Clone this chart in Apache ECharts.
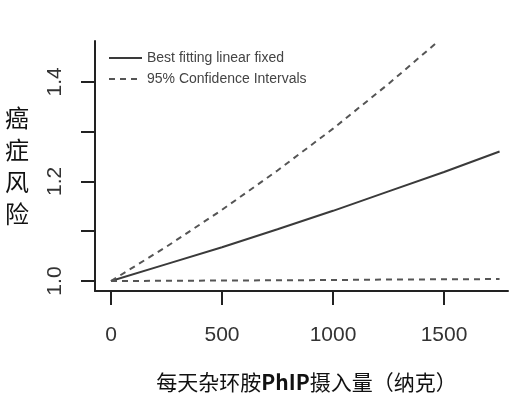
<!DOCTYPE html>
<html>
<head>
<meta charset="utf-8">
<script src="https://cdn.jsdelivr.net/npm/echarts@6/dist/echarts.min.js"></script>
<style>
  html, body { margin: 0; padding: 0; background: #fff; }
  #chart { width: 514px; height: 400px; }
</style>
</head>
<body>
<div id="chart"></div>
<script>
// daily PhIP intake (ng) and relative cancer risk
const doseNg = [0, 250, 500, 750, 1000, 1250, 1500, 1750];
const bestFit = [1.000, 1.034, 1.068, 1.104, 1.141, 1.180, 1.219, 1.260];
const upperDose = [0, 250, 500, 750, 1000, 1250, 1470];
const upperCI = [1.000, 1.069, 1.143, 1.222, 1.306, 1.396, 1.480];
const lowerCI = [1.000, 1.0005, 1.001, 1.0015, 1.002, 1.003, 1.0035, 1.004];

const xTicks = [0, 500, 1000, 1500];
const yTicks = [1.0, 1.1, 1.2, 1.3, 1.4];
const yLabels = [1.0, 1.2, 1.4];

const fitName = 'Best fitting linear fixed';
const ciName = '95% Confidence Intervals';

const pair = (xs, ys) => xs.map((x, i) => [x, ys[i]]);

const numFont = '"Liberation Sans", Arial, sans-serif';
const cjkFont = '"Noto Sans CJK SC", sans-serif';
const ink = '#333';
const fitColor = '#3a3a3a';
const ciColor = '#555';

let chart = echarts.init(document.getElementById('chart'));

let options = {
    animation: false,
    backgroundColor: '#fff',
    grid: {left: 95, right: 6, top: 41, bottom: 109},
    legend: {
        data: [fitName, ciName],
        orient: 'vertical',
        left: 108,
        top: 51,
        padding: 0,
        itemWidth: 33,
        itemHeight: 10,
        itemGap: 7,
        itemStyle: {opacity: 0},
        textStyle: {fontFamily: numFont, fontSize: 14, color: '#444'}
    },
    xAxis: {
        type: 'value',
        min: -72,
        max: 1788,
        name: '每天杂环胺{b|PhIP}摄入量（纳克）',
        nameLocation: 'middle',
        nameGap: 81,
        nameTextStyle: {
            fontFamily: cjkFont,
            fontSize: 21,
            color: '#111',
            padding: [0, 0, 0, 10],
            rich: {b: {fontFamily: cjkFont, fontSize: 21, fontWeight: 'bold', color: '#111'}}
        },
        axisLine: {show: true, onZero: false, lineStyle: {color: '#222', width: 2}},
        axisTick: {show: true, length: 14, customValues: xTicks, lineStyle: {color: '#222', width: 2}},
        axisLabel: {
            customValues: xTicks,
            margin: 34,
            fontFamily: numFont,
            fontSize: 21,
            color: ink,
            formatter: v => String(v)
        },
        splitLine: {show: false}
    },
    yAxis: {
        type: 'value',
        min: 0.98,
        max: 1.482,
        name: '癌\n症\n风\n险',
        nameLocation: 'middle',
        nameRotate: 0,
        nameGap: 66,
        nameTextStyle: {fontFamily: cjkFont, fontSize: 24, lineHeight: 32, color: '#111', padding: [0, 0, 8, 0]},
        axisLine: {show: true, onZero: false, lineStyle: {color: '#222', width: 2}},
        axisTick: {show: true, length: 14, customValues: yTicks, lineStyle: {color: '#222', width: 2}},
        axisLabel: {
            customValues: yLabels,
            rotate: 90,
            margin: 29,
            fontFamily: numFont,
            fontSize: 21,
            color: ink,
            formatter: v => v.toFixed(1)
        },
        splitLine: {show: false}
    },
    series: [
        {
            name: fitName,
            type: 'line',
            symbol: 'none',
            color: fitColor,
            data: pair(doseNg, bestFit),
            lineStyle: {color: fitColor, width: 2}
        },
        {
            name: ciName,
            type: 'line',
            symbol: 'none',
            color: ciColor,
            data: pair(upperDose, upperCI),
            lineStyle: {color: ciColor, width: 2, type: [6, 5]}
        },
        {
            name: ciName,
            type: 'line',
            symbol: 'none',
            color: ciColor,
            data: pair(doseNg, lowerCI),
            lineStyle: {color: ciColor, width: 2, type: [6, 5]}
        }
    ]
};

chart.setOption(options);
</script>
</body>
</html>
